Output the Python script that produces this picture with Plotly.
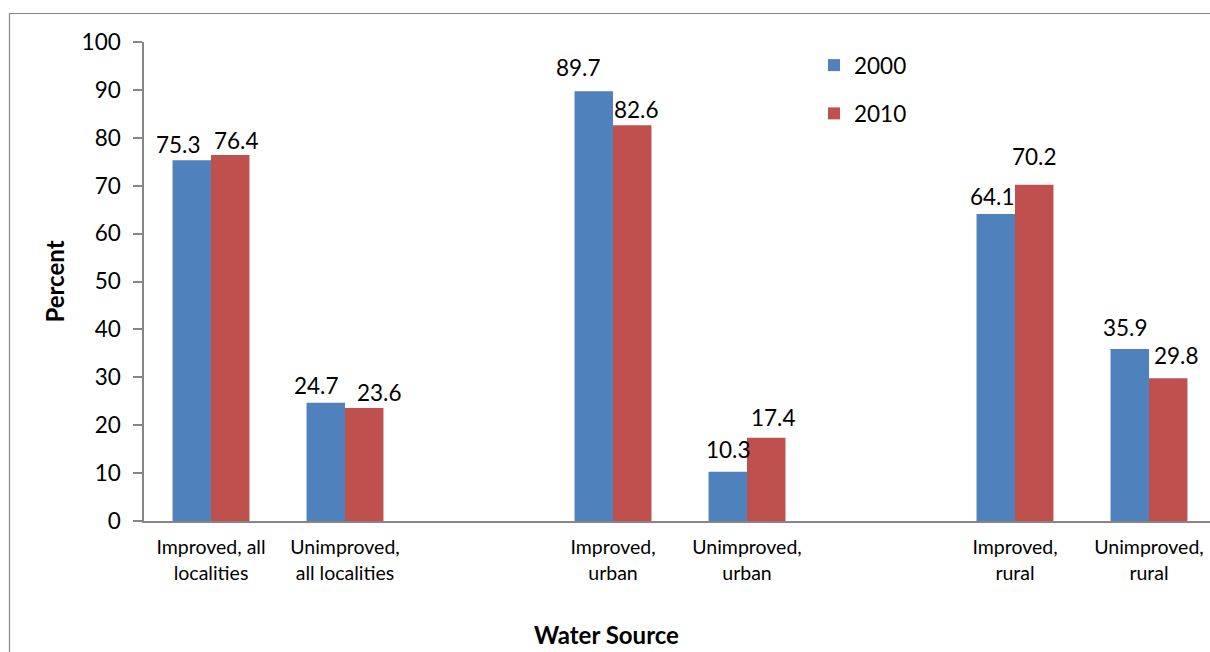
import plotly.graph_objects as go

# ---- data ----
categories = ["Improved, all<br>localities", "Unimproved,<br>all localities", "",
              "Improved,<br>urban", "Unimproved,<br>urban", "",
              "Improved,<br>rural", "Unimproved,<br>rural"]
slot_index = [0, 1, 3, 4, 6, 7]          # occupied category slots
series_names = ["2000", "2010"]
values_2000 = [75.3, 24.7, 89.7, 10.3, 64.1, 35.9]
values_2010 = [76.4, 23.6, 82.6, 17.4, 70.2, 29.8]
y_ticks = [0, 10, 20, 30, 40, 50, 60, 70, 80, 90, 100]

# ---- style ----
colors = ["#4F81BD", "#C0504D"]
FONT = "Lato"
axis_gray = "#868686"
label_font = 22.5
bar_frac = 0.287  # width of one bar as a fraction of a category slot

# label nudges (px): x shift, and gap between label baseline and bar top
dx_2000 = [-14, -10, -16, 0, -4, -5]
dx_2010 = [6, 15, 4, 7, 0, 8]
gap_2000 = [6, 8, 14, 13, 8, 12]
gap_2010 = [5, 6, 6, 11, 19, 13]
baseline_pad = 6

fig = go.Figure()
for name, vals, col in zip(series_names, [values_2000, values_2010], colors):
    fig.add_trace(go.Bar(
        x=slot_index, y=vals, name=name, legendgroup=name,
        marker=dict(color=col, line=dict(width=0)),
        hoverinfo="skip",
    ))

annotations = []
for k, (vals, dxs, gaps) in enumerate([(values_2000, dx_2000, gap_2000),
                                        (values_2010, dx_2010, gap_2010)]):
    off = (-0.5 + k) * bar_frac
    for xi, v, dx, g in zip(slot_index, vals, dxs, gaps):
        annotations.append(dict(
            x=xi + off, y=v, xref="x", yref="y", text=f"{v:.1f}",
            showarrow=False, yanchor="bottom", xanchor="center",
            xshift=dx, yshift=g - baseline_pad,
            font=dict(family=FONT, size=label_font, color="black"),
        ))

# x-axis title
annotations.append(dict(
    x=(606 - 144) / 1066, y=(521 - 651) / 479, xref="paper", yref="paper",
    text="<b>Water Source</b>", showarrow=False, xanchor="center", yanchor="bottom",
    font=dict(family=FONT, size=24, color="black"),
))

fig.update_layout(
    width=1210, height=652,
    margin=dict(l=144, r=0, t=42, b=131, pad=0),
    paper_bgcolor="white", plot_bgcolor="white",
    barmode="group", bargap=1 - 2 * bar_frac, bargroupgap=0,
    font=dict(family=FONT, color="black"),
    showlegend=True,
    legend=dict(
        x=(814 - 144) / 1066, y=(521 - 44) / 479, xanchor="left", yanchor="top",
        font=dict(family=FONT, size=label_font, color="black"),
        traceorder="grouped", tracegroupgap=16, bgcolor="rgba(0,0,0,0)",
        itemwidth=30,
    ),
    annotations=annotations,
    shapes=[dict(type="rect", xref="paper", yref="paper",
                 x0=(9.5 - 144) / 1066, y0=-0.6, x1=1.5, y1=(521 - 13.5) / 479,
                 line=dict(color=axis_gray, width=1.2), fillcolor="rgba(0,0,0,0)",
                 layer="below")],
    xaxis=dict(
        range=[-0.5, -0.5 + 1066 / 134],
        tickmode="array", tickvals=list(range(len(categories))), ticktext=categories,
        ticks="", showgrid=False, zeroline=False,
        showline=True, linecolor=axis_gray, linewidth=1.5,
        tickfont=dict(family=FONT, size=19.5, color="black"),
        ticklabelstandoff=8,
    ),
    yaxis=dict(
        range=[0, 100], tickmode="array", tickvals=y_ticks,
        ticks="outside", ticklen=9, tickwidth=1.5, tickcolor=axis_gray,
        showgrid=False, zeroline=False,
        showline=True, linecolor=axis_gray, linewidth=1.5,
        tickfont=dict(family=FONT, size=label_font, color="black"),
        ticklabelstandoff=8,
        title=dict(text="<b>Percent</b>", font=dict(family=FONT, size=24, color="black"),
                   standoff=10),
    ),
)

fig.write_html(
    "out.html",
    config={"displayModeBar": False},
    post_script="document.body.style.margin='0';document.body.style.overflow='hidden';",
)
